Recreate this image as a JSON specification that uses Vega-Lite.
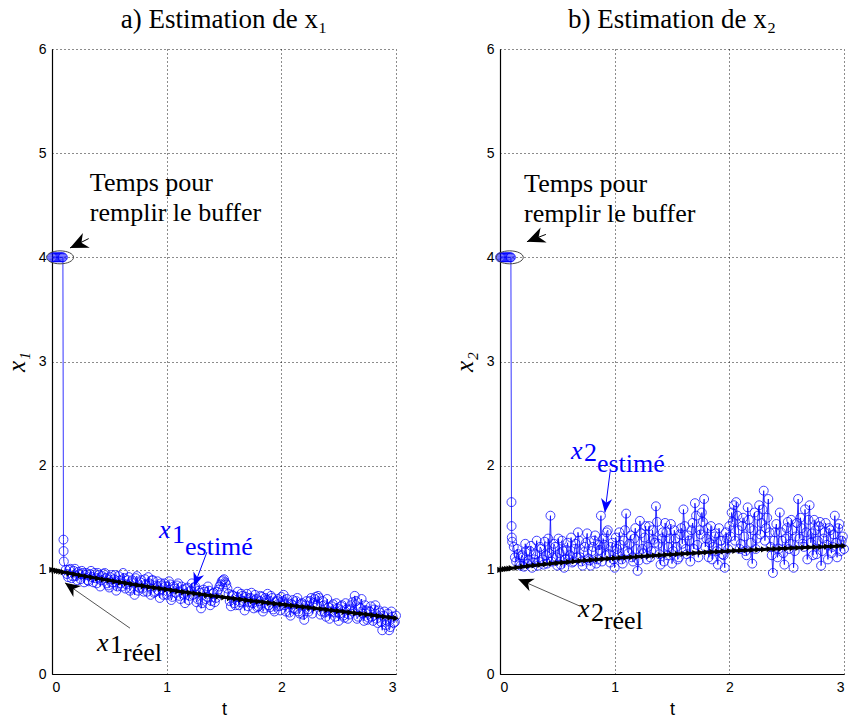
{
"$schema":"https://vega.github.io/schema/vega-lite/v6.json",
"padding":{"left":4,"top":6,"right":0,"bottom":0},
"spacing":49,
"config":{
 "view":{"stroke":null},
 "axis":{"labelFont":"Liberation Sans","labelFontSize":14,"labelColor":"black","domainColor":"black","domainWidth":1.2,"ticks":false,"grid":true,"gridColor":"black","gridDash":[1,3],"gridOpacity":0.9,"gridWidth":1,"labelPadding":6,"titleFontWeight":"normal","titleColor":"black"},
 "axisX":{"titleFont":"Liberation Sans","titleFontSize":18,"titlePadding":6},
 "axisY":{"titleFont":"Liberation Serif","titleFontStyle":"italic","titleFontSize":25,"titlePadding":9},
 "title":{"font":"Liberation Serif","fontSize":27,"fontWeight":"normal","color":"black","offset":8,"frame":"group"}
},
"datasets":{
 "e1":[{"t":0,"v":4},{"t":0.01,"v":4},{"t":0.02,"v":4},{"t":0.03,"v":4},{"t":0.04,"v":4},{"t":0.05,"v":4},{"t":0.06,"v":4},{"t":0.07,"v":4},{"t":0.08,"v":4},{"t":0.09,"v":4},{"t":0.095,"v":4},{"t":0.1,"v":1.29},{"t":0.101,"v":1.18},{"t":0.103,"v":1.08},
 {"t":0.12,"v":1.00},{"t":0.14,"v":0.93},{"t":0.16,"v":1.01},{"t":0.18,"v":0.94},{"t":0.20,"v":1.01},{"t":0.22,"v":0.90},{"t":0.24,"v":0.96},{"t":0.26,"v":0.99},{"t":0.28,"v":0.88},{"t":0.30,"v":0.97},{"t":0.32,"v":0.89},{"t":0.34,"v":0.99},{"t":0.36,"v":0.88},{"t":0.38,"v":0.92},{"t":0.40,"v":0.97},{"t":0.42,"v":0.84},{"t":0.44,"v":0.94},{"t":0.46,"v":0.97},{"t":0.48,"v":0.87},{"t":0.50,"v":0.83},{"t":0.52,"v":0.95},{"t":0.54,"v":0.91},{"t":0.56,"v":0.80},{"t":0.58,"v":0.94},{"t":0.60,"v":0.87},{"t":0.62,"v":0.97},{"t":0.64,"v":0.82},{"t":0.66,"v":0.90},{"t":0.68,"v":0.80},{"t":0.70,"v":0.90},{"t":0.72,"v":0.76},{"t":0.74,"v":0.94},{"t":0.76,"v":0.83},{"t":0.78,"v":0.90},{"t":0.80,"v":0.79},{"t":0.82,"v":0.86},{"t":0.84,"v":0.93},{"t":0.86,"v":0.76},{"t":0.88,"v":0.90},{"t":0.90,"v":0.79},{"t":0.92,"v":0.89},{"t":0.94,"v":0.73},{"t":0.96,"v":0.85},{"t":0.98,"v":0.87},{"t":1.00,"v":0.76},{"t":1.02,"v":0.89},{"t":1.04,"v":0.71},{"t":1.06,"v":0.84},{"t":1.08,"v":0.78},{"t":1.10,"v":0.87},{"t":1.12,"v":0.72},{"t":1.14,"v":0.81},{"t":1.16,"v":0.68},{"t":1.18,"v":0.83},{"t":1.20,"v":0.75},{"t":1.22,"v":0.87},{"t":1.24,"v":0.83},{"t":1.26,"v":0.69},{"t":1.28,"v":0.80},{"t":1.30,"v":0.63},{"t":1.32,"v":0.81},{"t":1.34,"v":0.72},{"t":1.36,"v":0.84},{"t":1.38,"v":0.66},{"t":1.40,"v":0.77},{"t":1.42,"v":0.69},{"t":1.44,"v":0.79},{"t":1.46,"v":0.84},{"t":1.48,"v":0.89},{"t":1.50,"v":0.91},{"t":1.52,"v":0.86},{"t":1.54,"v":0.77},{"t":1.56,"v":0.65},{"t":1.58,"v":0.75},{"t":1.60,"v":0.66},{"t":1.62,"v":0.79},{"t":1.64,"v":0.69},{"t":1.66,"v":0.75},{"t":1.68,"v":0.61},{"t":1.70,"v":0.77},{"t":1.72,"v":0.69},{"t":1.74,"v":0.78},{"t":1.76,"v":0.63},{"t":1.78,"v":0.72},{"t":1.80,"v":0.65},{"t":1.82,"v":0.75},{"t":1.84,"v":0.60},{"t":1.86,"v":0.73},{"t":1.88,"v":0.77},{"t":1.90,"v":0.64},{"t":1.92,"v":0.73},{"t":1.94,"v":0.60},{"t":1.96,"v":0.70},{"t":1.98,"v":0.65},{"t":2.00,"v":0.74},{"t":2.02,"v":0.76},{"t":2.04,"v":0.60},{"t":2.06,"v":0.68},{"t":2.08,"v":0.56},{"t":2.10,"v":0.71},{"t":2.12,"v":0.62},{"t":2.14,"v":0.73},{"t":2.16,"v":0.58},{"t":2.18,"v":0.68},{"t":2.20,"v":0.52},{"t":2.22,"v":0.70},{"t":2.24,"v":0.60},{"t":2.26,"v":0.73},{"t":2.28,"v":0.68},{"t":2.30,"v":0.74},{"t":2.32,"v":0.75},{"t":2.34,"v":0.57},{"t":2.36,"v":0.70},{"t":2.38,"v":0.59},{"t":2.40,"v":0.72},{"t":2.42,"v":0.53},{"t":2.44,"v":0.65},{"t":2.46,"v":0.59},{"t":2.48,"v":0.68},{"t":2.50,"v":0.51},{"t":2.52,"v":0.65},{"t":2.54,"v":0.56},{"t":2.56,"v":0.68},{"t":2.58,"v":0.53},{"t":2.60,"v":0.62},{"t":2.62,"v":0.69},{"t":2.64,"v":0.75},{"t":2.66,"v":0.53},{"t":2.68,"v":0.64},{"t":2.70,"v":0.72},{"t":2.72,"v":0.51},{"t":2.74,"v":0.61},{"t":2.76,"v":0.54},{"t":2.78,"v":0.65},{"t":2.80,"v":0.51},{"t":2.82,"v":0.66},{"t":2.84,"v":0.49},{"t":2.86,"v":0.59},{"t":2.88,"v":0.42},{"t":2.90,"v":0.60},{"t":2.92,"v":0.51},{"t":2.94,"v":0.42},{"t":2.96,"v":0.60},{"t":2.98,"v":0.49},{"t":3.00,"v":0.56},
 {"t":0.13,"v":0.96},{"t":0.15,"v":1.00},{"t":0.17,"v":0.92},{"t":0.19,"v":0.99},{"t":0.21,"v":0.94},{"t":0.23,"v":0.98},{"t":0.25,"v":0.91},{"t":0.27,"v":0.97},{"t":0.29,"v":0.95},{"t":0.31,"v":0.90},{"t":0.33,"v":0.96},{"t":0.35,"v":0.93},{"t":0.37,"v":0.97},{"t":0.39,"v":0.87},{"t":0.41,"v":0.95},{"t":0.43,"v":0.90},{"t":0.45,"v":0.96},{"t":0.47,"v":0.92},{"t":0.49,"v":0.85},{"t":0.51,"v":0.93},{"t":0.53,"v":0.88},{"t":0.55,"v":0.95},{"t":0.57,"v":0.84},{"t":0.59,"v":0.90},{"t":0.61,"v":0.84},{"t":0.63,"v":0.92},{"t":0.65,"v":0.86},{"t":0.67,"v":0.93},{"t":0.69,"v":0.82},{"t":0.71,"v":0.88},{"t":0.73,"v":0.92},{"t":0.75,"v":0.80},{"t":0.77,"v":0.88},{"t":0.79,"v":0.82},{"t":0.81,"v":0.91},{"t":0.83,"v":0.79},{"t":0.85,"v":0.87},{"t":0.87,"v":0.90},{"t":0.89,"v":0.78},{"t":0.91,"v":0.85},{"t":0.93,"v":0.80},{"t":0.95,"v":0.87},{"t":0.97,"v":0.76},{"t":0.99,"v":0.84},{"t":1.01,"v":0.79},{"t":1.03,"v":0.86},{"t":1.05,"v":0.74},{"t":1.07,"v":0.82},{"t":1.09,"v":0.85},{"t":1.11,"v":0.75},{"t":1.13,"v":0.84},{"t":1.15,"v":0.77},{"t":1.17,"v":0.82},{"t":1.19,"v":0.71},{"t":1.21,"v":0.80},{"t":1.23,"v":0.76},{"t":1.25,"v":0.84},{"t":1.27,"v":0.72},{"t":1.29,"v":0.78},{"t":1.31,"v":0.68},{"t":1.33,"v":0.79},{"t":1.35,"v":0.74},{"t":1.37,"v":0.80},{"t":1.39,"v":0.70},{"t":1.41,"v":0.78},{"t":1.43,"v":0.73},{"t":1.45,"v":0.81},{"t":1.47,"v":0.86},{"t":1.49,"v":0.90},{"t":1.51,"v":0.88},{"t":1.53,"v":0.82},{"t":1.55,"v":0.70},{"t":1.57,"v":0.76},{"t":1.59,"v":0.68},{"t":1.61,"v":0.74},{"t":1.63,"v":0.66},{"t":1.65,"v":0.77},{"t":1.67,"v":0.70},{"t":1.69,"v":0.74},{"t":1.71,"v":0.65},{"t":1.73,"v":0.73},{"t":1.75,"v":0.68},{"t":1.77,"v":0.76},{"t":1.79,"v":0.64},{"t":1.81,"v":0.70},{"t":1.83,"v":0.74},{"t":1.85,"v":0.63},{"t":1.87,"v":0.71},{"t":1.89,"v":0.66},{"t":1.91,"v":0.75},{"t":1.93,"v":0.62},{"t":1.95,"v":0.69},{"t":1.97,"v":0.72},{"t":1.99,"v":0.61},{"t":2.01,"v":0.70},{"t":2.03,"v":0.66},{"t":2.05,"v":0.72},{"t":2.07,"v":0.59},{"t":2.09,"v":0.67},{"t":2.11,"v":0.63},{"t":2.13,"v":0.70},{"t":2.15,"v":0.60},{"t":2.17,"v":0.67},{"t":2.19,"v":0.57},{"t":2.21,"v":0.66},{"t":2.23,"v":0.62},{"t":2.25,"v":0.70},{"t":2.27,"v":0.58},{"t":2.29,"v":0.72},{"t":2.31,"v":0.66},{"t":2.33,"v":0.73},{"t":2.35,"v":0.60},{"t":2.37,"v":0.66},{"t":2.39,"v":0.55},{"t":2.41,"v":0.64},{"t":2.43,"v":0.60},{"t":2.45,"v":0.67},{"t":2.47,"v":0.55},{"t":2.49,"v":0.63},{"t":2.51,"v":0.58},{"t":2.53,"v":0.66},{"t":2.55,"v":0.54},{"t":2.57,"v":0.62},{"t":2.59,"v":0.57},{"t":2.61,"v":0.66},{"t":2.63,"v":0.60},{"t":2.65,"v":0.70},{"t":2.67,"v":0.55},{"t":2.69,"v":0.63},{"t":2.71,"v":0.58},{"t":2.73,"v":0.66},{"t":2.75,"v":0.52},{"t":2.77,"v":0.60},{"t":2.79,"v":0.55},{"t":2.81,"v":0.62},{"t":2.83,"v":0.53},{"t":2.85,"v":0.61},{"t":2.87,"v":0.50},{"t":2.89,"v":0.56},{"t":2.91,"v":0.47},{"t":2.93,"v":0.58},{"t":2.95,"v":0.45},{"t":2.97,"v":0.55},{"t":2.99,"v":0.50}],
 "r1":[{"t":0,"v":1.000},{"t":0.02,"v":0.996},{"t":0.04,"v":0.991},{"t":0.06,"v":0.987},{"t":0.08,"v":0.983},{"t":0.1,"v":0.978},{"t":0.15,"v":0.967},{"t":0.2,"v":0.957},{"t":0.25,"v":0.947},{"t":0.3,"v":0.937},{"t":0.35,"v":0.927},{"t":0.4,"v":0.918},{"t":0.45,"v":0.908},{"t":0.5,"v":0.899},{"t":0.55,"v":0.889},{"t":0.6,"v":0.880},{"t":0.65,"v":0.871},{"t":0.7,"v":0.862},{"t":0.75,"v":0.853},{"t":0.8,"v":0.845},{"t":0.85,"v":0.836},{"t":0.9,"v":0.828},{"t":0.95,"v":0.819},{"t":1.0,"v":0.811},{"t":1.05,"v":0.803},{"t":1.1,"v":0.795},{"t":1.15,"v":0.787},{"t":1.2,"v":0.780},{"t":1.25,"v":0.772},{"t":1.3,"v":0.765},{"t":1.35,"v":0.757},{"t":1.4,"v":0.750},{"t":1.45,"v":0.743},{"t":1.5,"v":0.736},{"t":1.55,"v":0.729},{"t":1.6,"v":0.722},{"t":1.65,"v":0.715},{"t":1.7,"v":0.708},{"t":1.75,"v":0.701},{"t":1.8,"v":0.695},{"t":1.85,"v":0.688},{"t":1.9,"v":0.682},{"t":1.95,"v":0.675},{"t":2.0,"v":0.669},{"t":2.05,"v":0.662},{"t":2.1,"v":0.656},{"t":2.15,"v":0.649},{"t":2.2,"v":0.643},{"t":2.25,"v":0.636},{"t":2.3,"v":0.630},{"t":2.35,"v":0.623},{"t":2.4,"v":0.617},{"t":2.45,"v":0.610},{"t":2.5,"v":0.604},{"t":2.55,"v":0.597},{"t":2.6,"v":0.591},{"t":2.65,"v":0.584},{"t":2.7,"v":0.578},{"t":2.75,"v":0.571},{"t":2.8,"v":0.564},{"t":2.85,"v":0.557},{"t":2.9,"v":0.550},{"t":2.95,"v":0.543},{"t":3.0,"v":0.536}],
 "e2":[{"t":0,"v":4},{"t":0.01,"v":4},{"t":0.02,"v":4},{"t":0.03,"v":4},{"t":0.04,"v":4},{"t":0.05,"v":4},{"t":0.06,"v":4},{"t":0.07,"v":4},{"t":0.08,"v":4},{"t":0.09,"v":4},{"t":0.095,"v":4},{"t":0.1,"v":1.65},{"t":0.101,"v":1.42},{"t":0.103,"v":1.31},{"t":0.106,"v":1.27},
 {"t":0.12,"v":1.22},{"t":0.14,"v":1.08},{"t":0.16,"v":1.15},{"t":0.18,"v":1.04},{"t":0.20,"v":1.12},{"t":0.22,"v":1.25},{"t":0.24,"v":1.06},{"t":0.26,"v":1.18},{"t":0.28,"v":1.02},{"t":0.30,"v":1.10},{"t":0.32,"v":1.28},{"t":0.34,"v":1.08},{"t":0.36,"v":1.20},{"t":0.38,"v":1.05},{"t":0.40,"v":1.14},{"t":0.42,"v":1.30},{"t":0.44,"v":1.52},{"t":0.46,"v":1.12},{"t":0.48,"v":1.22},{"t":0.50,"v":1.04},{"t":0.52,"v":1.16},{"t":0.54,"v":1.28},{"t":0.56,"v":1.02},{"t":0.58,"v":1.19},{"t":0.60,"v":1.10},{"t":0.62,"v":1.31},{"t":0.64,"v":1.08},{"t":0.66,"v":1.25},{"t":0.68,"v":1.36},{"t":0.70,"v":1.12},{"t":0.72,"v":1.04},{"t":0.74,"v":1.22},{"t":0.76,"v":1.35},{"t":0.78,"v":1.09},{"t":0.80,"v":1.18},{"t":0.82,"v":1.28},{"t":0.84,"v":1.06},{"t":0.86,"v":1.24},{"t":0.88,"v":1.52},{"t":0.90,"v":1.30},{"t":0.92,"v":1.14},{"t":0.94,"v":1.38},{"t":0.96,"v":1.07},{"t":0.98,"v":1.26},{"t":1.00,"v":1.02},{"t":1.02,"v":1.20},{"t":1.04,"v":1.36},{"t":1.06,"v":1.10},{"t":1.08,"v":1.28},{"t":1.10,"v":1.54},{"t":1.12,"v":1.16},{"t":1.14,"v":1.33},{"t":1.16,"v":1.08},{"t":1.18,"v":1.40},{"t":1.20,"v":0.99},{"t":1.22,"v":1.47},{"t":1.24,"v":1.20},{"t":1.26,"v":1.31},{"t":1.28,"v":1.10},{"t":1.30,"v":1.42},{"t":1.32,"v":1.18},{"t":1.34,"v":1.29},{"t":1.36,"v":1.61},{"t":1.38,"v":1.25},{"t":1.40,"v":1.05},{"t":1.42,"v":1.36},{"t":1.44,"v":1.45},{"t":1.46,"v":1.14},{"t":1.48,"v":1.30},{"t":1.50,"v":1.06},{"t":1.52,"v":1.38},{"t":1.54,"v":1.22},{"t":1.56,"v":1.12},{"t":1.58,"v":1.40},{"t":1.60,"v":1.58},{"t":1.62,"v":1.20},{"t":1.64,"v":1.33},{"t":1.66,"v":1.08},{"t":1.68,"v":1.45},{"t":1.70,"v":1.64},{"t":1.72,"v":1.24},{"t":1.74,"v":1.38},{"t":1.76,"v":1.55},{"t":1.78,"v":1.68},{"t":1.80,"v":1.30},{"t":1.82,"v":1.12},{"t":1.84,"v":1.42},{"t":1.86,"v":1.22},{"t":1.88,"v":1.35},{"t":1.90,"v":1.05},{"t":1.92,"v":1.28},{"t":1.94,"v":1.15},{"t":1.96,"v":1.02},{"t":1.98,"v":1.30},{"t":2.00,"v":1.42},{"t":2.02,"v":1.55},{"t":2.04,"v":1.62},{"t":2.06,"v":1.65},{"t":2.08,"v":1.38},{"t":2.10,"v":1.25},{"t":2.12,"v":1.50},{"t":2.14,"v":1.18},{"t":2.16,"v":1.60},{"t":2.18,"v":1.40},{"t":2.20,"v":1.06},{"t":2.22,"v":1.55},{"t":2.24,"v":1.30},{"t":2.26,"v":1.62},{"t":2.28,"v":1.45},{"t":2.30,"v":1.76},{"t":2.32,"v":1.40},{"t":2.34,"v":1.68},{"t":2.36,"v":1.22},{"t":2.38,"v":0.97},{"t":2.40,"v":1.36},{"t":2.42,"v":1.12},{"t":2.44,"v":1.55},{"t":2.46,"v":1.28},{"t":2.48,"v":1.05},{"t":2.50,"v":1.40},{"t":2.52,"v":1.20},{"t":2.54,"v":1.48},{"t":2.56,"v":1.02},{"t":2.58,"v":1.32},{"t":2.60,"v":1.68},{"t":2.62,"v":1.50},{"t":2.64,"v":1.25},{"t":2.66,"v":1.58},{"t":2.68,"v":1.10},{"t":2.70,"v":1.62},{"t":2.72,"v":1.35},{"t":2.74,"v":1.48},{"t":2.76,"v":1.15},{"t":2.78,"v":1.42},{"t":2.80,"v":1.04},{"t":2.82,"v":1.30},{"t":2.84,"v":1.45},{"t":2.86,"v":1.10},{"t":2.88,"v":1.38},{"t":2.90,"v":1.22},{"t":2.92,"v":1.52},{"t":2.94,"v":1.12},{"t":2.96,"v":1.44},{"t":2.98,"v":1.28},{"t":3.00,"v":1.20},
 {"t":0.13,"v":1.12},{"t":0.15,"v":1.20},{"t":0.17,"v":1.06},{"t":0.19,"v":1.14},{"t":0.21,"v":1.03},{"t":0.23,"v":1.18},{"t":0.25,"v":1.09},{"t":0.27,"v":1.23},{"t":0.29,"v":1.07},{"t":0.31,"v":1.15},{"t":0.33,"v":1.04},{"t":0.35,"v":1.22},{"t":0.37,"v":1.10},{"t":0.39,"v":1.27},{"t":0.41,"v":1.06},{"t":0.43,"v":1.16},{"t":0.45,"v":1.08},{"t":0.47,"v":1.25},{"t":0.49,"v":1.12},{"t":0.51,"v":1.30},{"t":0.53,"v":1.05},{"t":0.55,"v":1.18},{"t":0.57,"v":1.10},{"t":0.59,"v":1.26},{"t":0.61,"v":1.14},{"t":0.63,"v":1.07},{"t":0.65,"v":1.20},{"t":0.67,"v":1.12},{"t":0.69,"v":1.28},{"t":0.71,"v":1.08},{"t":0.73,"v":1.17},{"t":0.75,"v":1.26},{"t":0.77,"v":1.11},{"t":0.79,"v":1.04},{"t":0.81,"v":1.22},{"t":0.83,"v":1.33},{"t":0.85,"v":1.10},{"t":0.87,"v":1.19},{"t":0.89,"v":1.08},{"t":0.91,"v":1.24},{"t":0.93,"v":1.36},{"t":0.95,"v":1.15},{"t":0.97,"v":1.22},{"t":0.99,"v":1.10},{"t":1.01,"v":1.31},{"t":1.03,"v":1.14},{"t":1.05,"v":1.24},{"t":1.07,"v":1.06},{"t":1.09,"v":1.38},{"t":1.11,"v":1.18},{"t":1.13,"v":1.25},{"t":1.15,"v":1.12},{"t":1.17,"v":1.30},{"t":1.19,"v":1.20},{"t":1.21,"v":1.09},{"t":1.23,"v":1.35},{"t":1.25,"v":1.16},{"t":1.27,"v":1.42},{"t":1.29,"v":1.22},{"t":1.31,"v":1.12},{"t":1.33,"v":1.38},{"t":1.35,"v":1.26},{"t":1.37,"v":1.46},{"t":1.39,"v":1.15},{"t":1.41,"v":1.30},{"t":1.43,"v":1.08},{"t":1.45,"v":1.36},{"t":1.47,"v":1.22},{"t":1.49,"v":1.44},{"t":1.51,"v":1.18},{"t":1.53,"v":1.30},{"t":1.55,"v":1.10},{"t":1.57,"v":1.34},{"t":1.59,"v":1.25},{"t":1.61,"v":1.42},{"t":1.63,"v":1.15},{"t":1.65,"v":1.28},{"t":1.67,"v":1.38},{"t":1.69,"v":1.20},{"t":1.71,"v":1.52},{"t":1.73,"v":1.12},{"t":1.75,"v":1.34},{"t":1.77,"v":1.46},{"t":1.79,"v":1.22},{"t":1.81,"v":1.40},{"t":1.83,"v":1.26},{"t":1.85,"v":1.10},{"t":1.87,"v":1.32},{"t":1.89,"v":1.18},{"t":1.91,"v":1.40},{"t":1.93,"v":1.28},{"t":1.95,"v":1.14},{"t":1.97,"v":1.36},{"t":1.99,"v":1.20},{"t":2.01,"v":1.32},{"t":2.03,"v":1.46},{"t":2.05,"v":1.28},{"t":2.07,"v":1.52},{"t":2.09,"v":1.20},{"t":2.11,"v":1.42},{"t":2.13,"v":1.32},{"t":2.15,"v":1.14},{"t":2.17,"v":1.48},{"t":2.19,"v":1.26},{"t":2.21,"v":1.38},{"t":2.23,"v":1.20},{"t":2.25,"v":1.52},{"t":2.27,"v":1.34},{"t":2.29,"v":1.58},{"t":2.31,"v":1.28},{"t":2.33,"v":1.50},{"t":2.35,"v":1.36},{"t":2.37,"v":1.14},{"t":2.39,"v":1.28},{"t":2.41,"v":1.44},{"t":2.43,"v":1.20},{"t":2.45,"v":1.36},{"t":2.47,"v":1.16},{"t":2.49,"v":1.30},{"t":2.51,"v":1.46},{"t":2.53,"v":1.25},{"t":2.55,"v":1.38},{"t":2.57,"v":1.18},{"t":2.59,"v":1.45},{"t":2.61,"v":1.30},{"t":2.63,"v":1.40},{"t":2.65,"v":1.22},{"t":2.67,"v":1.36},{"t":2.69,"v":1.48},{"t":2.71,"v":1.26},{"t":2.73,"v":1.14},{"t":2.75,"v":1.38},{"t":2.77,"v":1.28},{"t":2.79,"v":1.46},{"t":2.81,"v":1.18},{"t":2.83,"v":1.36},{"t":2.85,"v":1.24},{"t":2.87,"v":1.40},{"t":2.89,"v":1.16},{"t":2.91,"v":1.34},{"t":2.93,"v":1.26},{"t":2.95,"v":1.40},{"t":2.97,"v":1.18},{"t":2.99,"v":1.32}],
 "r2":[{"t":0,"v":1.000},{"t":0.02,"v":1.003},{"t":0.04,"v":1.006},{"t":0.06,"v":1.009},{"t":0.08,"v":1.012},{"t":0.1,"v":1.015},{"t":0.15,"v":1.022},{"t":0.2,"v":1.030},{"t":0.25,"v":1.036},{"t":0.3,"v":1.042},{"t":0.35,"v":1.048},{"t":0.4,"v":1.054},{"t":0.45,"v":1.060},{"t":0.5,"v":1.065},{"t":0.55,"v":1.070},{"t":0.6,"v":1.076},{"t":0.65,"v":1.081},{"t":0.7,"v":1.086},{"t":0.75,"v":1.090},{"t":0.8,"v":1.095},{"t":0.85,"v":1.099},{"t":0.9,"v":1.103},{"t":0.95,"v":1.107},{"t":1.0,"v":1.111},{"t":1.05,"v":1.115},{"t":1.1,"v":1.118},{"t":1.15,"v":1.122},{"t":1.2,"v":1.126},{"t":1.25,"v":1.130},{"t":1.3,"v":1.133},{"t":1.35,"v":1.137},{"t":1.4,"v":1.140},{"t":1.45,"v":1.144},{"t":1.5,"v":1.147},{"t":1.55,"v":1.151},{"t":1.6,"v":1.154},{"t":1.65,"v":1.158},{"t":1.7,"v":1.161},{"t":1.75,"v":1.165},{"t":1.8,"v":1.168},{"t":1.85,"v":1.171},{"t":1.9,"v":1.174},{"t":1.95,"v":1.177},{"t":2.0,"v":1.180},{"t":2.05,"v":1.183},{"t":2.1,"v":1.186},{"t":2.15,"v":1.189},{"t":2.2,"v":1.191},{"t":2.25,"v":1.194},{"t":2.3,"v":1.196},{"t":2.35,"v":1.199},{"t":2.4,"v":1.201},{"t":2.45,"v":1.204},{"t":2.5,"v":1.206},{"t":2.55,"v":1.209},{"t":2.6,"v":1.211},{"t":2.65,"v":1.214},{"t":2.7,"v":1.216},{"t":2.75,"v":1.218},{"t":2.8,"v":1.220},{"t":2.85,"v":1.223},{"t":2.9,"v":1.225},{"t":2.95,"v":1.228},{"t":3.0,"v":1.230}],
 "a1":[{"k":"note","t":0.157,"v":4.09,"t2":0.32,"v2":4.18},{"k":"est","t":1.238,"v":0.84,"t2":1.351,"v2":1.17},{"k":"shaft","t":0.113,"v":0.875,"t2":0.68,"v2":0.44}],
 "a2":[{"k":"note","t":0.235,"v":4.15,"t2":0.40,"v2":4.22},{"k":"est","t":0.915,"v":1.55,"t2":0.96,"v2":1.94},{"k":"shaft","t":0.16,"v":0.91,"t2":0.70,"v2":0.65}],
 "n1":[{"k":"note","t":0.33,"v":4.71,"txt":"Temps pour"},{"k":"note","t":0.33,"v":4.43,"txt":"remplir le buffer"},{"k":"est","t":1.046,"v":1.33,"txt":"1"},{"k":"est","t":1.16,"v":1.22,"txt":"estimé"},{"k":"reel","t":0.506,"v":0.28,"txt":"1"},{"k":"reel","t":0.62,"v":0.20,"txt":"réel"}],
 "i1":[{"k":"est","t":0.933,"v":1.38,"txt":"x"},{"k":"reel","t":0.392,"v":0.30,"txt":"x"}],
 "n2":[{"k":"note","t":0.21,"v":4.70,"txt":"Temps pour"},{"k":"note","t":0.21,"v":4.42,"txt":"remplir le buffer"},{"k":"est","t":0.732,"v":2.12,"txt":"2"},{"k":"est","t":0.845,"v":2.02,"txt":"estimé"},{"k":"reel","t":0.793,"v":0.59,"txt":"2"},{"k":"reel","t":0.906,"v":0.51,"txt":"réel"}],
 "i2":[{"k":"est","t":0.619,"v":2.14,"txt":"x"},{"k":"reel","t":0.680,"v":0.62,"txt":"x"}]
},
"hconcat":[
 {
  "width":344,"height":625,
  "title":"a) Estimation de x₁",
  "encoding":{
   "x":{"field":"t","type":"quantitative","scale":{"domain":[0,3],"nice":false,"zero":false},"axis":{"values":[0,1,2,3],"title":"t"}},
   "y":{"field":"v","type":"quantitative","scale":{"domain":[0,6],"nice":false},"axis":{"values":[0,1,2,3,4,5,6],"title":"x₁"}}
  },
  "layer":[
   {"data":{"name":"e1"},"mark":{"type":"line","color":"#0000ff","strokeWidth":0.8},"encoding":{}},
   {"data":{"name":"e1"},"mark":{"type":"point","shape":"circle","filled":false,"color":"#0000ff","size":80,"strokeWidth":1,"opacity":0.75}},
   {"data":{"name":"r1"},"mark":{"type":"line","color":"black","strokeWidth":3},"encoding":{}},
   {"data":{"name":"r1"},"mark":{"type":"point","shape":"triangle-right","filled":true,"color":"black","size":40,"opacity":1}},
   {"data":{"values":[{"t":0.07,"v":4}]},"mark":{"type":"point","shape":"M-1,0 C-1,-0.265 -0.552,-0.48 0,-0.48 C0.552,-0.48 1,-0.265 1,0 C1,0.265 0.552,0.48 0,0.48 C-0.552,0.48 -1,0.265 -1,0 Z","filled":false,"color":"#444444","size":729,"strokeWidth":1,"opacity":1}},
   {"data":{"name":"a1"},"mark":{"type":"rule","strokeWidth":1},"encoding":{"x2":{"field":"t2"},"y2":{"field":"v2"},"color":{"field":"k","type":"nominal","scale":{"domain":["est","reel","note","shaft"],"range":["#0000ff","#000000","#000000","#555555"]},"legend":null}}},
   {"data":{"values":[{"t":0.157,"v":4.09}]},"mark":{"type":"point","shape":"M0,0 L0.45,1 L0,0.7 L-0.45,1 Z","filled":true,"color":"black","size":1296,"angle":245,"opacity":1}},
   {"data":{"values":[{"t":1.238,"v":0.84}]},"mark":{"type":"point","shape":"M0,0 L0.4,1 L0,0.7 L-0.4,1 Z","filled":true,"color":"#0000ff","size":784,"angle":200,"opacity":1}},
   {"data":{"values":[{"t":0.113,"v":0.875}]},"mark":{"type":"point","shape":"M0,0 L0.45,1 L0,0.7 L-0.45,1 Z","filled":true,"color":"black","size":900,"angle":305,"opacity":1}},
   {"data":{"name":"n1"},"mark":{"type":"text","font":"Liberation Serif","fontSize":26,"align":"left","baseline":"middle"},"encoding":{"text":{"field":"txt"},"color":{"field":"k","type":"nominal","scale":{"domain":["est","reel","note","shaft"],"range":["#0000ff","#000000","#000000","#555555"]},"legend":null}}},
   {"data":{"name":"i1"},"mark":{"type":"text","font":"Liberation Serif","fontStyle":"italic","fontSize":26,"align":"left","baseline":"middle"},"encoding":{"text":{"field":"txt"},"color":{"field":"k","type":"nominal","scale":{"domain":["est","reel","note","shaft"],"range":["#0000ff","#000000","#000000","#555555"]},"legend":null}}}
  ]
 },
 {
  "width":344,"height":625,
  "title":"b) Estimation de x₂",
  "encoding":{
   "x":{"field":"t","type":"quantitative","scale":{"domain":[0,3],"nice":false,"zero":false},"axis":{"values":[0,1,2,3],"title":"t"}},
   "y":{"field":"v","type":"quantitative","scale":{"domain":[0,6],"nice":false},"axis":{"values":[0,1,2,3,4,5,6],"title":"x₂"}}
  },
  "layer":[
   {"data":{"name":"e2"},"mark":{"type":"line","color":"#0000ff","strokeWidth":0.8},"encoding":{}},
   {"data":{"name":"e2"},"mark":{"type":"point","shape":"circle","filled":false,"color":"#0000ff","size":80,"strokeWidth":1,"opacity":0.75}},
   {"data":{"name":"r2"},"mark":{"type":"line","color":"black","strokeWidth":3},"encoding":{}},
   {"data":{"name":"r2"},"mark":{"type":"point","shape":"triangle-right","filled":true,"color":"black","size":40,"opacity":1}},
   {"data":{"values":[{"t":0.085,"v":4}]},"mark":{"type":"point","shape":"M-1,0 C-1,-0.265 -0.552,-0.48 0,-0.48 C0.552,-0.48 1,-0.265 1,0 C1,0.265 0.552,0.48 0,0.48 C-0.552,0.48 -1,0.265 -1,0 Z","filled":false,"color":"#444444","size":729,"strokeWidth":1,"opacity":1}},
   {"data":{"name":"a2"},"mark":{"type":"rule","strokeWidth":1},"encoding":{"x2":{"field":"t2"},"y2":{"field":"v2"},"color":{"field":"k","type":"nominal","scale":{"domain":["est","reel","note","shaft"],"range":["#0000ff","#000000","#000000","#555555"]},"legend":null}}},
   {"data":{"values":[{"t":0.235,"v":4.15}]},"mark":{"type":"point","shape":"M0,0 L0.45,1 L0,0.7 L-0.45,1 Z","filled":true,"color":"black","size":1296,"angle":248,"opacity":1}},
   {"data":{"values":[{"t":0.915,"v":1.55}]},"mark":{"type":"point","shape":"M0,0 L0.4,1 L0,0.7 L-0.4,1 Z","filled":true,"color":"#0000ff","size":784,"angle":187,"opacity":1}},
   {"data":{"values":[{"t":0.16,"v":0.91}]},"mark":{"type":"point","shape":"M0,0 L0.45,1 L0,0.7 L-0.45,1 Z","filled":true,"color":"black","size":900,"angle":293,"opacity":1}},
   {"data":{"name":"n2"},"mark":{"type":"text","font":"Liberation Serif","fontSize":26,"align":"left","baseline":"middle"},"encoding":{"text":{"field":"txt"},"color":{"field":"k","type":"nominal","scale":{"domain":["est","reel","note","shaft"],"range":["#0000ff","#000000","#000000","#555555"]},"legend":null}}},
   {"data":{"name":"i2"},"mark":{"type":"text","font":"Liberation Serif","fontStyle":"italic","fontSize":26,"align":"left","baseline":"middle"},"encoding":{"text":{"field":"txt"},"color":{"field":"k","type":"nominal","scale":{"domain":["est","reel","note","shaft"],"range":["#0000ff","#000000","#000000","#555555"]},"legend":null}}}
  ]
 }
]
}
